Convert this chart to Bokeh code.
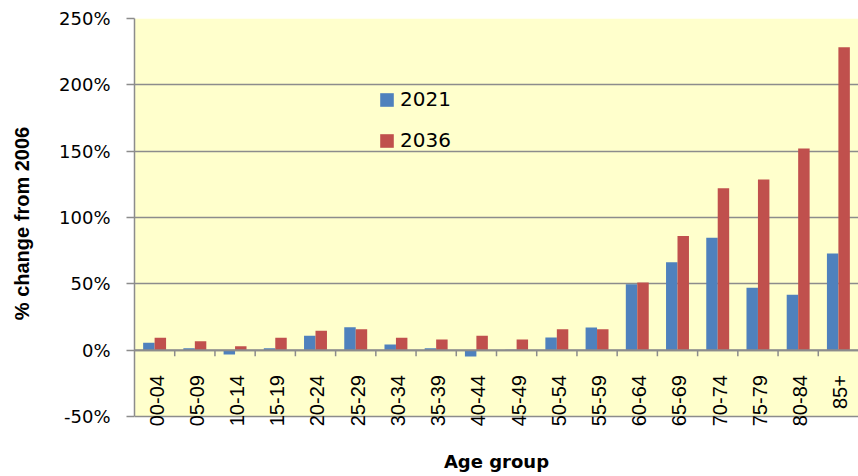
import numpy as np
from math import pi
from bokeh.plotting import figure
from bokeh.models import (Range1d, FixedTicker, PrintfTickFormatter, Span, Legend, LegendItem,
                          LabelSet, ColumnDataSource)
from bokeh.core.properties import value
from bokeh.embed import file_html
from bokeh.resources import INLINE

categories = ["00-04", "05-09", "10-14", "15-19", "20-24", "25-29", "30-34", "35-39", "40-44",
              "45-49", "50-54", "55-59", "60-64", "65-69", "70-74", "75-79", "80-84", "85+"]
change_2021 = [5.5, 1.5, -3.2, 1.5, 10.8, 17.3, 4.3, 1.5, -4.7, 0.4, 9.5, 17.1, 49.7, 66.3, 84.7, 47.0, 41.7, 72.9]
change_2036 = [9.3, 6.8, 3.0, 9.3, 14.6, 15.8, 9.3, 8.0, 10.8, 8.0, 15.8, 15.8, 51.0, 86.0, 122.0, 128.7, 152.0, 228.4]
y_ticks = [-50, 0, 50, 100, 150, 200, 250]
series_names = ["2021", "2036"]

n = len(categories)
centers = np.arange(n) + 0.5
bar_w = 0.285
GRID = "#8C8C8C"
y_lo, y_hi = y_ticks[0], y_ticks[-1]

# the frame reaches a little below -50% so the rotated category labels are not clipped
p = figure(width=858, height=476, x_range=Range1d(0, n), y_range=Range1d(y_lo - 9.05, y_hi),
           output_backend="svg", toolbar_location=None,
           min_border_left=134, min_border_right=0, min_border_top=18, min_border_bottom=48,
           background_fill_color="white", border_fill_color="white",
           outline_line_color=None)

# yellow plot area from -50% to 250%
p.quad(left=0, right=n, bottom=y_lo, top=y_hi, fill_color="#FFFFCC", line_color=None, level="image")

p.xgrid.visible = False
p.ygrid.ticker = FixedTicker(ticks=y_ticks)
p.ygrid.grid_line_color = GRID
p.ygrid.grid_line_width = 1.5

ya = p.yaxis[0]
ya.ticker = FixedTicker(ticks=y_ticks)
ya.bounds = (y_lo, y_hi)
ya.formatter = PrintfTickFormatter(format="%d%%")
ya.major_label_text_font = "DejaVu Sans"
ya.major_label_text_font_size = "18px"
ya.major_label_text_color = "black"
ya.major_tick_out = 8
ya.major_tick_in = 0
ya.major_tick_line_color = GRID
ya.major_tick_line_width = 1.5
ya.axis_line_color = GRID
ya.axis_line_width = 1.5
ya.major_label_standoff = 16
ya.axis_label = "% change from 2006"
ya.axis_label_text_font = "Liberation Sans"
ya.axis_label_text_font_style = "bold"
ya.axis_label_text_font_size = "20px"
ya.axis_label_text_color = "black"
ya.axis_label_standoff = 23

xa = p.xaxis[0]
xa.ticker = FixedTicker(ticks=[])
xa.axis_line_color = None
xa.major_tick_out = 0
xa.major_tick_in = 0
xa.axis_label = "Age group"
xa.axis_label_text_font = "DejaVu Sans"
xa.axis_label_text_font_style = "bold"
xa.axis_label_text_font_size = "18px"
xa.axis_label_text_color = "black"
xa.axis_label_standoff = 22

r1 = p.vbar(x=centers - bar_w / 2, top=change_2021, bottom=0, width=bar_w,
            fill_color="#4F81BD", line_color=None)
r2 = p.vbar(x=centers + bar_w / 2, top=change_2036, bottom=0, width=bar_w,
            fill_color="#C0504D", line_color=None)

p.add_layout(Span(location=0, dimension="width", line_color=GRID, line_width=2))
bounds = np.arange(1, n)
p.segment(x0=bounds, y0=0, x1=bounds, y1=-4.5, line_color=GRID, line_width=1.5)

label_src = ColumnDataSource(dict(x=centers, y=[-18.8] * n, text=categories))
labels = LabelSet(x="x", y="y", text="text", source=label_src, angle=pi / 2,
                  text_align="right", text_baseline="middle",
                  text_font=value("Liberation Sans"), text_font_size=value("20px"),
                  text_color="black", x_offset=2)
p.add_layout(labels)

legend = Legend(items=[LegendItem(label=series_names[0], renderers=[r1]),
                       LegendItem(label=series_names[1], renderers=[r2])],
                location=(244, 276), orientation="vertical",
                background_fill_alpha=0, border_line_color=None,
                padding=0, margin=0, spacing=17, label_standoff=5,
                glyph_width=17, glyph_height=17,
                label_text_font="DejaVu Sans", label_text_font_size="20px",
                label_text_color="black")
p.add_layout(legend)

open("out.html", "w").write(file_html(p, INLINE))
